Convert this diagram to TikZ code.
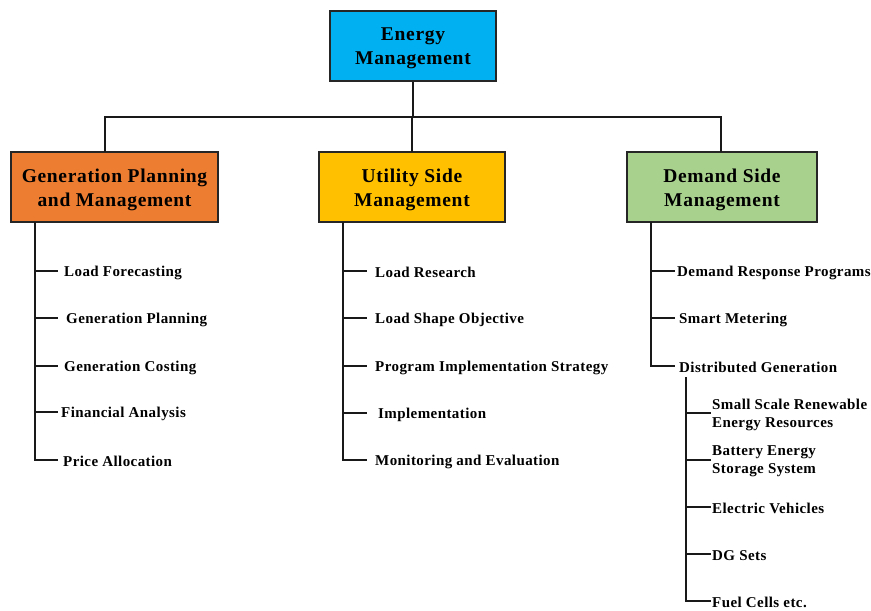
\documentclass[tikz,border=0pt]{standalone}
\usepackage{fontspec}
\setmainfont{Liberation Serif}
\newfontfamily\hdfont[LetterSpace=3.5]{Liberation Serif}
\newfontfamily\itfont[LetterSpace=2.8]{Liberation Serif}
\begin{document}
\begin{tikzpicture}[x=1pt,y=-1pt,
  hbox/.style={draw=black!85,line width=2.2pt,minimum height=70pt,inner sep=0pt},
  htext/.style={font=\hdfont\bfseries\fontsize{19.5}{24}\selectfont,align=center,inner sep=0pt,yshift=-2.5pt},
  item/.style={anchor=west,font=\itfont\bfseries\fontsize{15}{18}\selectfont,inner sep=0pt,align=left,yshift=-1.5pt},
  conn/.style={line width=1.4pt,black!90}]
\useasboundingbox (0,0) rectangle (871,611);
\definecolor{cE}{HTML}{00B0F0}
\definecolor{cG}{HTML}{ED7D31}
\definecolor{cU}{HTML}{FFC000}
\definecolor{cD}{HTML}{A9D18E}
\node[hbox,fill=cE,minimum width=166pt] (em) at (413,46) {};
\node[htext] (emt) at (em.center) {Energy\\Management};
\node[hbox,fill=cG,minimum width=207pt] (gp) at (114.5,187) {};
\node[htext] (gpt) at (gp.center) {Generation Planning\\and Management};
\node[hbox,fill=cU,minimum width=186pt] (us) at (412,187) {};
\node[htext] (ust) at (us.center) {Utility Side\\Management};
\node[hbox,fill=cD,minimum width=190pt] (ds) at (722,187) {};
\node[htext] (dst) at (ds.center) {Demand Side\\Management};
\coordinate (busL) at (105,117);
\coordinate (busR) at (721,117);
\draw[conn] (em.south) -- (413,117);
\draw[conn] (105,152) -- (busL) -- (busR) -- (721,152);
\draw[conn] (412,117) -- (412,152);
% left branch
\node[item] (g1) at (64,271) {Load Forecasting};
\node[item] (g2) at (66,318) {Generation Planning};
\node[item] (g3) at (64,366) {Generation Costing};
\node[item] (g4) at (61,412) {Financial Analysis};
\node[item] (g5) at (63,460) {Price Allocation};
\draw[conn] (35,222) -- (35,460) -- (58,460);
\foreach \y in {271,318,366,412} \draw[conn] (35,\y) -- (58,\y);
% middle branch
\node[item] (u1) at (375,271) {Load Research};
\node[item] (u2) at (375,318) {Load Shape Objective};
\node[item] (u3) at (375,366) {Program Implementation Strategy};
\node[item] (u4) at (378,413) {Implementation};
\node[item] (u5) at (375,460) {Monitoring and Evaluation};
\draw[conn] (343,222) -- (343,460) -- (367,460);
\foreach \y in {271,318,366,413} \draw[conn] (343,\y) -- (367,\y);
% right branch
\node[item] (d1) at (677,271) {Demand Response Programs};
\node[item] (d2) at (679,318) {Smart Metering};
\node[item] (d3) at (679,366) {Distributed Generation};
\draw[conn] (651,222) -- (651,366) -- (675,366);
\foreach \y in {271,318} \draw[conn] (651,\y) -- (675,\y);
% sub branch
\node[item] (s1) at (712,413) {Small Scale Renewable\\Energy Resources};
\node[item] (s2) at (712,460) {Battery Energy\\Storage System};
\node[item] (s3) at (712,507) {Electric Vehicles};
\node[item] (s4) at (712,554) {DG Sets};
\node[item] (s5) at (712,601) {Fuel Cells etc.};
\draw[conn] (686,377) -- (686,601) -- (711,601);
\foreach \y in {413,460,507,554} \draw[conn] (686,\y) -- (711,\y);
\end{tikzpicture}
\end{document}
